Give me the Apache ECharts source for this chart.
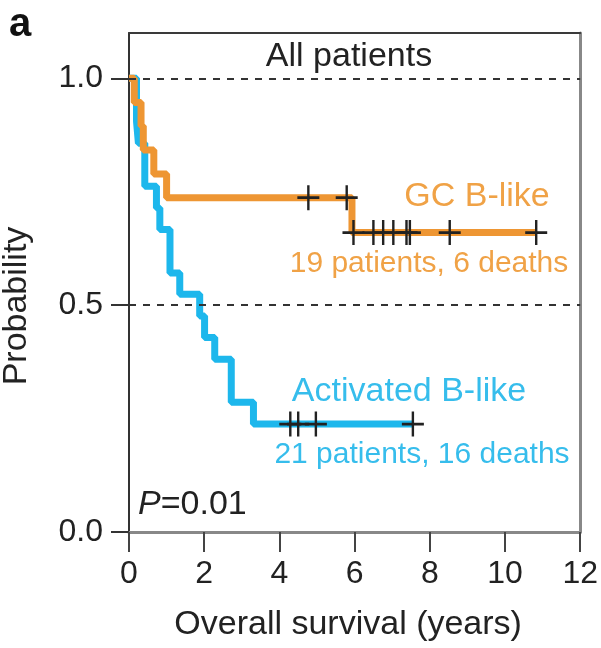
<!DOCTYPE html>
<html>
<head>
<meta charset="utf-8">
<title>All patients</title>
<script src="https://cdn.jsdelivr.net/npm/echarts@6/dist/echarts.min.js"></script>
<style>
  html, body { margin: 0; padding: 0; background: #fff; }
  #chart { width: 601px; height: 648px; }
</style>
</head>
<body>
<div id="chart"></div>
<script>
  // Kaplan-Meier data (years, survival probability)
  const gcTimes = [0.14, 0.32, 0.38, 0.66, 1.0, 5.93];
  const gcSurv = [0.947, 0.895, 0.842, 0.789, 0.737, 0.66];
  const gcCensor = [4.77, 5.79, 5.97, 6.5, 6.76, 7.03, 7.38, 7.47, 8.53, 10.83];

  const abcTimes = [0.2, 0.2, 0.25, 0.42, 0.42, 0.73, 0.82, 1.09, 1.09, 1.35, 1.88, 2.01, 2.28, 2.72, 2.72, 3.31];
  const abcSurv = [0.952, 0.905, 0.857, 0.81, 0.762, 0.714, 0.667, 0.619, 0.571, 0.524, 0.476, 0.429, 0.381, 0.333, 0.286, 0.238];
  const abcCensor = [4.29, 4.5, 4.97, 7.55];

  const xTicks = [0, 2, 4, 6, 8, 10, 12];
  const yTicks = [0, 0.5, 1.0];
  const refLines = [0.5, 1.0];

  const FONT = 'Liberation Sans, Arial, Helvetica, sans-serif';
  const ORANGE = '#ee9633';
  const BLUE = '#1db7ec';

  function survAt(times, surv, t) {
    let s = 1;
    for (let i = 0; i < times.length; i += 1) {
      if (times[i] <= t) s = surv[i];
    }
    return s;
  }

  function kmLine(times, surv, censor) {
    const pts = [[0, 1]];
    times.forEach((t, i) => pts.push([t, surv[i]]));
    const end = censor[censor.length - 1];
    pts.push([end, survAt(times, surv, end)]);
    return pts;
  }

  function marks(times, surv, censor) {
    return censor.map(t => [t, survAt(times, surv, t)]);
  }

  const plus = 'path://M9.8,0H12.2V9.8H22V12.2H12.2V22H9.8V12.2H0V9.8H9.8Z';

  const chart = echarts.init(document.getElementById('chart'));
  chart.setOption({
    animation: false,
    grid: { left: 129, right: 19, top: 33, bottom: 116, containLabel: false },
    xAxis: [
      {
        type: 'value',
        min: 0,
        max: 12,
        interval: 2,
        name: 'Overall survival (years)',
        nameLocation: 'middle',
        nameGap: 76,
        nameTextStyle: { fontFamily: FONT, fontSize: 34, color: '#222', padding: [0, 13, 0, 0] },
        axisLine: { onZero: false, lineStyle: { color: '#888', width: 3 } },
        axisTick: { inside: false, length: 20, lineStyle: { color: '#444', width: 2 } },
        axisLabel: { margin: 26, fontFamily: FONT, fontSize: 32, color: '#222' },
        splitLine: { show: false }
      },
      {
        type: 'value',
        position: 'top',
        min: 0,
        max: 12,
        axisLine: { show: true, onZero: false, lineStyle: { color: '#3a3a3a', width: 2 } },
        axisTick: { show: false },
        axisLabel: { show: false },
        splitLine: { show: false }
      }
    ],
    yAxis: [
      {
        type: 'value',
        min: 0,
        max: 1.1,
        interval: 0.5,
        axisLine: { show: true, onZero: false, lineStyle: { color: '#333', width: 2 } },
        axisTick: { show: true, length: 18, customValues: yTicks, lineStyle: { color: '#333', width: 2 } },
        axisLabel: {
          margin: 26,
          customValues: yTicks,
          fontFamily: FONT,
          fontSize: 32,
          color: '#222',
          formatter: v => (yTicks.indexOf(v) >= 0 ? v.toFixed(1) : '')
        },
        splitLine: { show: false }
      },
      {
        type: 'value',
        position: 'right',
        min: 0,
        max: 1.1,
        axisLine: { show: true, onZero: false, lineStyle: { color: '#888', width: 3 } },
        axisTick: { show: false },
        axisLabel: { show: false },
        splitLine: { show: false }
      }
    ],
    series: [
      {
        name: 'Activated B-like',
        type: 'line',
        step: 'end',
        showSymbol: false,
        lineStyle: { color: BLUE, width: 7 },
        data: kmLine(abcTimes, abcSurv, abcCensor),
        markLine: {
          silent: true,
          symbol: 'none',
          label: { show: false },
          lineStyle: { color: '#333', width: 2, type: [7, 7] },
          data: refLines.map(v => ({ yAxis: v }))
        },
        z: 2
      },
      {
        name: 'GC B-like',
        type: 'line',
        step: 'end',
        showSymbol: false,
        lineStyle: { color: ORANGE, width: 7 },
        data: kmLine(gcTimes, gcSurv, gcCensor),
        z: 3
      },
      {
        type: 'scatter',
        symbol: plus,
        symbolSize: [22, 25],
        itemStyle: { color: '#222', opacity: 1 },
        data: marks(abcTimes, abcSurv, abcCensor).concat(marks(gcTimes, gcSurv, gcCensor)),
        z: 4
      }
    ],
    graphic: [
      { type: 'text', x: 20, y: 25, style: { text: 'a', font: 'bold 40px ' + FONT, fill: '#111', align: 'center', verticalAlign: 'middle' } },
      { type: 'text', x: 349, y: 57, style: { text: 'All patients', font: '34px ' + FONT, fill: '#222', align: 'center', verticalAlign: 'middle' } },
      { type: 'text', x: 17, y: 306, rotation: Math.PI / 2, style: { text: 'Probability', font: '34px ' + FONT, fill: '#222', align: 'center', verticalAlign: 'middle' } },
      { type: 'text', x: 477, y: 197, style: { text: 'GC B-like', font: '34px ' + FONT, fill: '#f0a246', align: 'center', verticalAlign: 'middle' } },
      { type: 'text', x: 429, y: 264, style: { text: '19 patients, 6 deaths', font: '30px ' + FONT, fill: '#f0a246', align: 'center', verticalAlign: 'middle' } },
      { type: 'text', x: 409, y: 392, style: { text: 'Activated B-like', font: '34px ' + FONT, fill: '#36bdec', align: 'center', verticalAlign: 'middle' } },
      { type: 'text', x: 422, y: 455, style: { text: '21 patients, 16 deaths', font: '30px ' + FONT, fill: '#36bdec', align: 'center', verticalAlign: 'middle' } },
      {
        type: 'text',
        x: 138,
        y: 505,
        style: {
          text: '{i|P}=0.01',
          font: '34px ' + FONT,
          fill: '#222',
          align: 'left',
          verticalAlign: 'middle',
          rich: { i: { fontStyle: 'italic', fontFamily: FONT, fontSize: 34, fill: '#222' } }
        }
      }
    ]
  });
</script>
</body>
</html>
